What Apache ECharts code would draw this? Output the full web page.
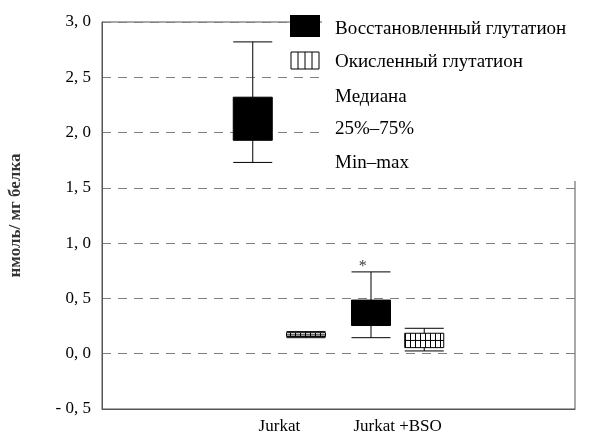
<!DOCTYPE html>
<html>
<head>
<meta charset="utf-8">
<script src="https://cdn.jsdelivr.net/npm/echarts@6/dist/echarts.min.js"></script>
<style>html,body{margin:0;padding:0;background:#fff;}#c{width:590px;height:436px;}</style>
</head>
<body>
<div id="c"></div>
<script>
// ---- data ----
var categories = ['', 'Jurkat', 'Jurkat +BSO', ''];
// [min, Q1, median, Q3, max]
var reducedGSH = ['-', [1.73, 1.93, 2.10, 2.32, 2.82], [0.145, 0.255, 0.35, 0.485, 0.74], '-'];
var oxidizedGSH = ['-', [0.145, 0.155, 0.17, 0.19, 0.20], [0.025, 0.055, 0.12, 0.185, 0.23], '-'];
var seriesNames = ['Восстановленный глутатион', 'Окисленный глутатион'];
var legendExtra = ['Медиана', '25%–75%', 'Min–max'];
var starMark = [[2, 0.785]];
var yTicks = { min: -0.5, max: 3.0, step: 0.5 };
var yName = 'нмоль/ мг белка';

// ---- pattern for hatched boxes ----
var pc = document.createElement('canvas');
pc.width = 5; pc.height = 4;
var pctx = pc.getContext('2d');
pctx.fillStyle = '#fff'; pctx.fillRect(0, 0, 5, 4);
pctx.fillStyle = '#000'; pctx.fillRect(0, 0, 1, 4);
var hatch = { image: pc, repeat: 'repeat' };

var serif = '"Liberation Serif", "DejaVu Serif", serif';
var chart = echarts.init(document.getElementById('c'));

function fmt(v) {
  var s = Math.abs(v).toFixed(1).replace('.', ', ');
  return v < 0 ? '- ' + s : s;
}

var textX = 335;
var graphics = [
  { type: 'rect', shape: { x: 322, y: 0, width: 268, height: 181 }, style: { fill: '#fff' }, z: 50 },
  { type: 'rect', shape: { x: 290, y: 15, width: 30, height: 22 }, style: { fill: '#000' }, z: 51 },
  { type: 'rect', shape: { x: 291, y: 52, width: 28, height: 17 }, style: { fill: '#fff', stroke: '#000', lineWidth: 1 }, z: 51 },
  { type: 'line', shape: { x1: 298, y1: 52, x2: 298, y2: 69 }, style: { stroke: '#000', lineWidth: 1 }, z: 52 },
  { type: 'line', shape: { x1: 305, y1: 52, x2: 305, y2: 69 }, style: { stroke: '#000', lineWidth: 1 }, z: 52 },
  { type: 'line', shape: { x1: 312, y1: 52, x2: 312, y2: 69 }, style: { stroke: '#000', lineWidth: 1 }, z: 52 }
];
var legendTexts = [seriesNames[0], seriesNames[1]].concat(legendExtra);
var legendY = [29, 62, 97, 129, 163];
legendTexts.forEach(function (t, i) {
  graphics.push({ type: 'text', x: textX, y: legendY[i], z: 52,
    style: { text: t, fill: '#000', font: '19px ' + serif, textVerticalAlign: 'middle' } });
});

chart.setOption({
  animation: false,
  backgroundColor: '#fff',
  grid: { left: 102, right: 15, top: 22, bottom: 27, containLabel: false, outerBoundsMode: 'none',
          show: true, borderColor: '#555', borderWidth: 1, backgroundColor: 'transparent' },
  xAxis: {
    type: 'category', data: categories,
    axisLine: { show: true, onZero: false, lineStyle: { color: '#555' } },
    axisTick: { show: false },
    axisLabel: { color: '#000', fontFamily: serif, fontSize: 17, margin: 9, interval: 0, hideOverlap: false },
    splitLine: { show: false }
  },
  yAxis: {
    type: 'value', min: yTicks.min, max: yTicks.max, interval: yTicks.step,
    name: yName, nameLocation: 'middle', nameGap: 78, nameRotate: 90,
    nameTextStyle: { fontFamily: serif, fontSize: 17, fontWeight: 'bold', color: '#333' },
    axisLine: { show: true, lineStyle: { color: '#555' } },
    axisTick: { show: false },
    axisLabel: { color: '#000', fontFamily: serif, fontSize: 17, margin: 11, formatter: fmt },
    splitLine: { show: true, lineStyle: { color: '#808080', type: [9, 7], width: 1 } }
  },
  series: [
    { name: seriesNames[0], type: 'boxplot', data: reducedGSH, boxWidth: [39, 39],
      itemStyle: { color: '#000', borderColor: '#000', borderWidth: 1 } },
    { name: seriesNames[1], type: 'boxplot', data: oxidizedGSH, boxWidth: [39, 39],
      itemStyle: { color: hatch, borderColor: '#000', borderWidth: 1 } },
    { type: 'scatter', data: starMark, symbolSize: 0, silent: true,
      label: { show: true, formatter: '*', position: 'inside', offset: [-35, 0], color: '#000', fontFamily: serif, fontSize: 16 } }
  ],
  graphic: graphics
});
</script>
</body>
</html>
